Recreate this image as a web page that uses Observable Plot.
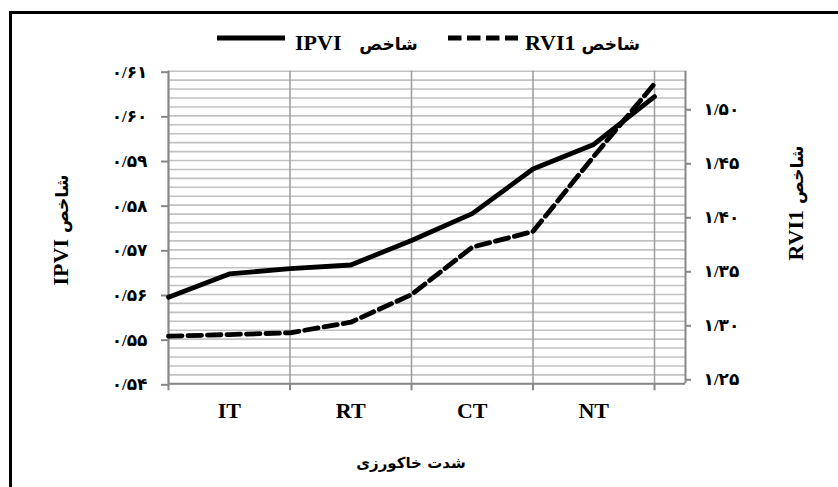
<!DOCTYPE html>
<html><head><meta charset="utf-8">
<script src="https://cdn.jsdelivr.net/npm/d3@7"></script>
<script src="https://cdn.jsdelivr.net/npm/@observablehq/plot@0.6"></script>
<style>
body{margin:0;background:#fff;}
#wrap{position:relative;width:838px;height:487px;overflow:hidden;background:#fff;}
#border{position:absolute;left:9px;top:11px;width:900px;height:600px;border:3px solid #000;box-sizing:border-box;pointer-events:none;}
</style></head><body>
<div id="wrap"><div id="chart"></div><div id="border"></div></div>
<script>
// ---- data ----
const categories = ["IT", "RT", "CT", "NT"];
const categoryPositions = [1, 3, 5, 7];
const pointIndex = [0, 1, 2, 3, 4, 5, 6, 7, 8];
const ipvi = [0.5594, 0.5646, 0.5658, 0.5666, 0.5721, 0.5781, 0.5881, 0.5936, 0.6043];
const rvi1 = [1.2941, 1.2956, 1.2972, 1.3070, 1.3326, 1.3765, 1.3910, 1.4605, 1.5278];
const leftTicks = [0.54, 0.55, 0.56, 0.57, 0.58, 0.59, 0.60, 0.61];
const rightTicks = [1.25, 1.30, 1.35, 1.40, 1.45, 1.50];
const verticalGrid = [0, 2, 4, 6, 8];
const leftDomain = [0.54, 0.61];
const rightDomain = [1.25, 1.5394];
const xDomain = [0, 8.51];
const horizontalGrid = d3.range(0, 36).map(i => +(0.54 + i * 0.002).toFixed(3));

const toLeft = r => leftDomain[0] + (r - rightDomain[0]) / (rightDomain[1] - rightDomain[0]) * (leftDomain[1] - leftDomain[0]);
const toRight = l => rightDomain[0] + (l - leftDomain[0]) / (leftDomain[1] - leftDomain[0]) * (rightDomain[1] - rightDomain[0]);
const fa = s => s.replace(/\d/g, d => "۰۱۲۳۴۵۶۷۸۹"[d]).replace(".", "/");
const fmt2 = d => fa(d3.format(".2f")(d));

const rows = pointIndex.map((i, k) => ({i, ipvi: ipvi[k], rvi: toLeft(rvi1[k])}));

const serif = "'Liberation Serif','Times New Roman',serif";
const arab = "'DejaVu Sans',sans-serif";
const mixed = "'Liberation Serif','DejaVu Sans',serif";

const chart = Plot.plot({
  width: 838, height: 487,
  marginLeft: 168, marginRight: 153, marginTop: 70.7, marginBottom: 103.7,
  x: {domain: xDomain, axis: null, label: null},
  y: {domain: leftDomain, axis: null, label: null},
  style: {fontFamily: mixed, background: "white", color: "black"},
  marks: [
    Plot.gridY(horizontalGrid, {stroke: "#c2c2c2", strokeOpacity: 1, strokeWidth: 1.6}),
    Plot.gridX(verticalGrid, {stroke: "#9c9c9c", strokeOpacity: 1, strokeWidth: 1.5}),
    Plot.ruleX([xDomain[0], xDomain[1]], {stroke: "#878787", strokeWidth: 2}),
    Plot.ruleY([leftDomain[0]], {stroke: "#878787", strokeWidth: 2}),
    Plot.axisY(leftTicks, {anchor: "left", label: null, tickSize: 7, tickPadding: 14, stroke: "#878787", strokeWidth: 2,
      tickFormat: fmt2, fontSize: 17, fontWeight: "bold", fill: "black", dy: 1}),
    Plot.axisY(rightTicks.map(toLeft), {anchor: "right", label: null, tickSize: 5, tickPadding: 13, stroke: "#878787", strokeWidth: 2,
      tickFormat: d => fmt2(toRight(d)), fontSize: 17, fontWeight: "bold", fill: "black", dy: -4}),
    Plot.axisX(verticalGrid, {anchor: "bottom", label: null, tickSize: 7, tickFormat: () => "", stroke: "#878787", strokeWidth: 2}),
    Plot.axisX(categoryPositions, {anchor: "bottom", label: null, tickSize: 0, tickPadding: 19,
      tickFormat: d => categories[categoryPositions.indexOf(d)], fontSize: 22, fontWeight: "bold", fontFamily: serif, fill: "black"}),
    Plot.line(rows, {x: "i", y: "ipvi", stroke: "black", strokeWidth: 4.8, strokeLinejoin: "round"}),
    Plot.line(rows, {x: "i", y: "rvi", stroke: "black", strokeWidth: 4.8, strokeDasharray: "13.5,6", strokeLinejoin: "round"})
  ]
});
document.getElementById("chart").append(chart);

const svg = d3.select(chart);
function mixedText(g, x, y, latin, gap, rotate, anchor) {
  const t = g.append("text").attr("text-anchor", anchor || "start").attr("direction", "ltr");
  if (rotate) t.attr("transform", `translate(${x},${y}) rotate(-90)`);
  else t.attr("x", x).attr("y", y);
  t.append("tspan").attr("font-family", serif).attr("font-weight", "bold").attr("font-size", 22).text(latin);
  t.append("tspan").attr("font-family", arab).attr("font-weight", "bold").attr("font-size", 17).text(gap + "شاخص");
  return t;
}
const lg = svg.append("g");
lg.append("line").attr("x1", 217).attr("x2", 285).attr("y1", 38).attr("y2", 38)
  .attr("stroke", "black").attr("stroke-width", 4.8);
mixedText(lg, 295, 50, "IPVI", "\u00a0\u00a0\u00a0", false);
lg.append("line").attr("x1", 448).attr("x2", 518).attr("y1", 38).attr("y2", 38)
  .attr("stroke", "black").attr("stroke-width", 4.8).attr("stroke-dasharray", "13.5,5.5");
mixedText(lg, 525, 50, "RVI1", "\u00a0", false);

mixedText(svg, 68, 230, "IPVI", "\u00a0", true, "middle");
mixedText(svg, 803, 203, "RVI1", "\u00a0", true, "middle");

svg.append("text").attr("x", 411).attr("y", 468).attr("text-anchor", "middle")
  .attr("font-family", arab).attr("font-weight", "bold").attr("font-size", 15).text("شدت خاکورزی");
</script>
</body></html>
